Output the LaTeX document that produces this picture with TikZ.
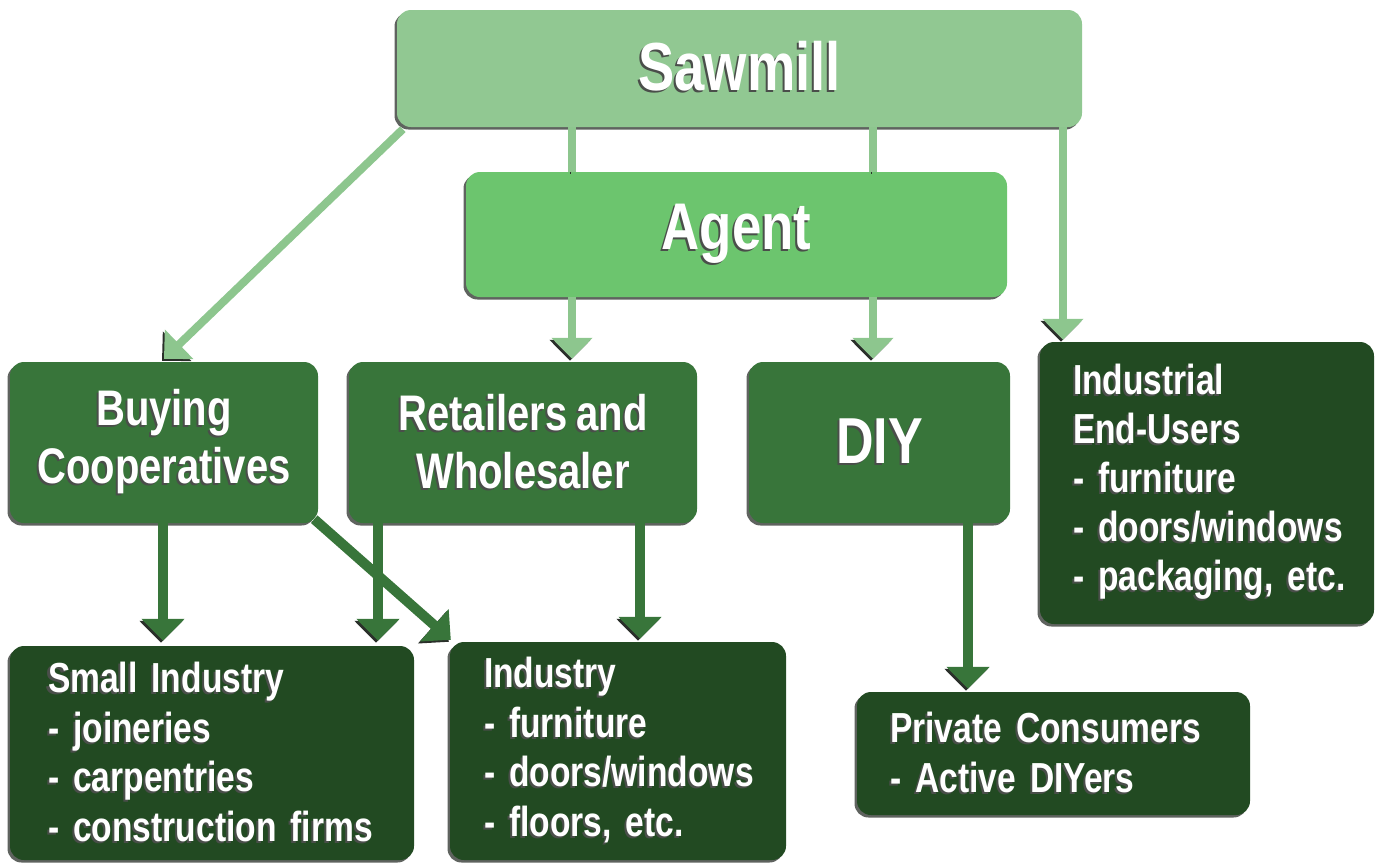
\documentclass[tikz,border=0pt]{standalone}
\usepackage{fontspec}
\newfontfamily\cond[FakeStretch=0.8,WordSpace=0.8]{Liberation Sans}
\usetikzlibrary{arrows.meta,shadows}
\definecolor{sawc}{HTML}{91C892}
\definecolor{agc}{HTML}{6CC56E}
\definecolor{midc}{HTML}{38753A}
\definecolor{darkc}{HTML}{224A22}
\definecolor{lac}{HTML}{8DC68E}
\definecolor{shc}{HTML}{2A2F2A}
\newcommand\shd[1]{\leavevmode\hbox{\rlap{\kern-2pt\raisebox{-2pt}{\color{shc!85}#1}}#1}}
\begin{document}
\begin{tikzpicture}[x=1pt,y=-1pt,
  box/.style={rounded corners=14pt, inner sep=0pt, text=white,
    drop shadow={shadow xshift=-2.5pt,shadow yshift=-2.5pt,opacity=0.75,fill=shc}},
  cbox/.style={box, align=center},
  lbox/.style={box, align=left, font=\cond\bfseries\fontsize{42}{49.5}\selectfont},
  lline/.style={draw=lac, line width=8pt,
    preaction={draw=shc, transform canvas={xshift=-2pt,yshift=-2pt}}},
  larrow/.style={lline, -{Triangle[width=40pt,length=21pt]}},
  darrow/.style={draw=midc, line width=10pt, -{Triangle[width=42pt,length=22pt]},
    preaction={draw=shc, transform canvas={xshift=-2pt,yshift=-2pt}}}
]
\useasboundingbox (0,0) rectangle (1377,863);
% boxes
\node[cbox, fill=sawc, minimum width=685pt, minimum height=117pt,
  font=\cond\bfseries\fontsize{68}{70}\selectfont] (saw) at (739.5,68.5) {\raisebox{5pt}{\shd{Sawmill}}};
\node[cbox, fill=agc, minimum width=541pt, minimum height=125pt,
  font=\cond\bfseries\fontsize{66}{70}\selectfont] (agent) at (736.5,234.5) {\shd{Agent}};
\node[cbox, fill=midc, minimum width=308pt, minimum height=161pt,
  font=\cond\bfseries\fontsize{50}{58}\selectfont] (buy) at (164,442.5) {\shd{Buying}\\\shd{Cooperatives}};
\node[cbox, fill=midc, minimum width=348pt, minimum height=161pt,
  font=\cond\bfseries\fontsize{50}{58}\selectfont] (ret) at (523,442.5) {\shd{Retailers and}\\\shd{Wholesaler}};
\node[cbox, fill=midc, minimum width=261pt, minimum height=161pt,
  font=\cond\bfseries\fontsize{65}{70}\selectfont] (diy) at (879.5,442.5) {\shd{DIY}};
\node[lbox, fill=darkc, text width=268pt, inner xsep=33pt, minimum height=282pt,
  font=\cond\bfseries\fontsize{42}{49}\selectfont] (ieu) at (1207,483)
  {\shd{Industrial}\\\shd{End-Users}\\\shd{- furniture}\\\shd{- doors/windows}\\\shd{- packaging, etc.}};
\node[lbox, fill=darkc, text width=328pt, inner xsep=38pt, minimum height=214pt] (small) at (212,753)
  {\shd{Small Industry}\\\shd{- joineries}\\\shd{- carpentries}\\\shd{- construction firms}};
\node[lbox, fill=darkc, text width=268pt, inner xsep=34pt, minimum height=218pt] (ind) at (618,751)
  {\shd{Industry}\\\shd{- furniture}\\\shd{- doors/windows}\\\shd{- floors, etc.}};
\node[lbox, fill=darkc, text width=327pt, inner xsep=33pt, minimum height=123pt] (priv) at (1053.5,753.5)
  {\shd{Private Consumers}\\\shd{- Active DIYers}};
% arrow x positions
\coordinate (xa) at (572,0);
\coordinate (xb) at (873,0);
\coordinate (xc) at (1063,0);
\coordinate (xd) at (163,0);
\coordinate (xe) at (378,0);
\coordinate (xf) at (640,0);
\coordinate (xg) at (968,0);
% connectors
\draw[larrow] ([xshift=6pt,yshift=-2pt]saw.south west) -- ([yshift=3pt]buy.north);
\draw[lline] (xa |- saw.south) -- (xa |- agent.north);
\draw[lline] (xb |- saw.south) -- (xb |- agent.north);
\draw[larrow] (xa |- agent.south) -- ([yshift=3pt]xa |- ret.north);
\draw[larrow] (xb |- agent.south) -- ([yshift=3pt]xb |- diy.north);
\draw[larrow] (xc |- saw.south) -- ([yshift=2pt]xc |- ieu.north);
\draw[darrow] (xd |- buy.south) -- ([yshift=5pt]xd |- small.north);
\draw[darrow] (xe |- ret.south) -- ([yshift=5pt]xe |- small.north);
\draw[darrow] ([xshift=-4pt,yshift=4pt]buy.south east) -- ([xshift=1pt,yshift=2pt]ind.north west);
\draw[darrow] (xf |- ret.south) -- ([yshift=3pt]xf |- ind.north);
\draw[darrow] (xg |- diy.south) -- ([yshift=3pt]xg |- priv.north);
\end{tikzpicture}
\end{document}
